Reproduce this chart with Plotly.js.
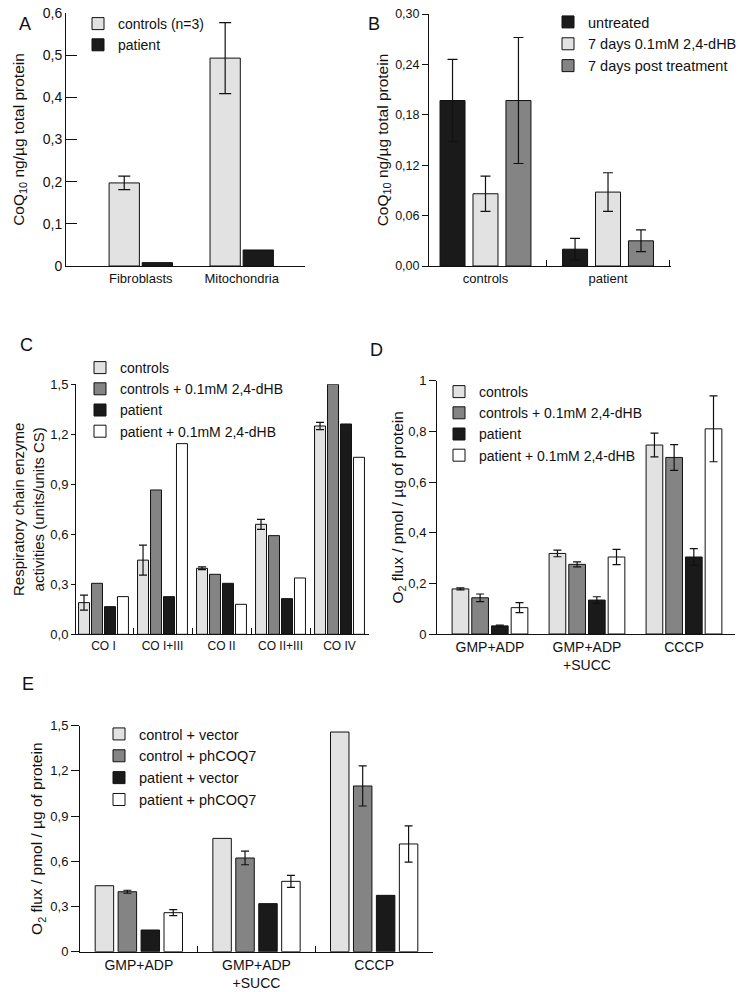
<!DOCTYPE html>
<html><head><meta charset="utf-8">
<script src="https://cdn.plot.ly/plotly-3.0.1.min.js"></script>
<style>html,body{margin:0;padding:0;background:#fff}#chart{width:750px;height:992px}</style>
</head><body><div id="chart"></div>
<script>
// ---------- Panel A ----------
const aCategories = ['Fibroblasts', 'Mitochondria'];
const aControls = [0.197, 0.493];
const aControlsErr = [0.016, 0.084];
const aPatient = [0.008, 0.038];

// ---------- Panel B ----------
const bCategories = ['controls', 'patient'];
const bUntreated = [0.197, 0.020];
const bUntreatedErr = [0.049, 0.013];
const bTreated = [0.086, 0.088];
const bTreatedErr = [0.021, 0.023];
const bPost = [0.197, 0.030];
const bPostErr = [0.075, 0.013];

// ---------- Panel C ----------
const cCategories = ['CO I', 'CO I+III', 'CO II', 'CO II+III', 'CO IV'];
const cControls = [0.19, 0.445, 0.396, 0.66, 1.25];
const cControlsErr = [0.045, 0.09, 0.008, 0.03, 0.022];
const cControlsDhb = [0.306, 0.866, 0.36, 0.592, 1.5];
const cPatient = [0.166, 0.226, 0.306, 0.214, 1.262];
const cPatientDhb = [0.226, 1.144, 0.18, 0.338, 1.062];

// ---------- Panel D ----------
const dCategories = ['GMP+ADP', 'GMP+ADP<br>+SUCC', 'CCCP'];
const dControls = [0.178, 0.318, 0.746];
const dControlsErr = [0.004, 0.013, 0.047];
const dControlsDhb = [0.143, 0.275, 0.697];
const dControlsDhbErr = [0.015, 0.010, 0.051];
const dPatient = [0.032, 0.134, 0.304];
const dPatientErr = [0.003, 0.013, 0.033];
const dPatientDhb = [0.104, 0.304, 0.81];
const dPatientDhbErr = [0.020, 0.030, 0.130];

// ---------- Panel E ----------
const eCategories = ['GMP+ADP', 'GMP+ADP<br>+SUCC', 'CCCP'];
const eControlVector = [0.438, 0.752, 1.458];
const eControlPh = [0.398, 0.622, 1.10];
const eControlPhErr = [0.010, 0.045, 0.133];
const ePatientVector = [0.144, 0.319, 0.374];
const ePatientPh = [0.259, 0.467, 0.715];
const ePatientPhErr = [0.020, 0.040, 0.120];

// ---------- styling ----------
const W = 750, H = 992;
const LIGHT = '#e2e2e2', MID = '#848484', DARK = '#1a1a1a', WHITE = '#ffffff';
const FONT = 'Liberation Sans, Arial, Helvetica, sans-serif';
const px = v => v / W;
const py = v => 1 - v / H;

function bar(p, x, y, err, name, color, idx, n) {
  const offset = -n * p.slot / 2 + idx * p.slot + (p.slot - p.bw) / 2;
  const t = {
    type: 'bar', x: x, y: y, name: name,
    xaxis: p.xa, yaxis: p.ya, legend: p.legend,
    width: p.bw, offset: offset,
    marker: {color: color, line: {color: '#111', width: 1}},
    showlegend: true, hoverinfo: 'x+y+name'
  };
  if (err) {
    t.error_y = {type: 'data', array: err, visible: true, color: '#111', thickness: 1.2, width: p.ew};
  }
  return t;
}

const PA = {xa: 'x', ya: 'y', legend: 'legend', slot: 0.328, bw: 0.30, ew: 6};
const PB = {xa: 'x2', ya: 'y2', legend: 'legend2', slot: 0.269, bw: 0.204, ew: 5};
const PC = {xa: 'x3', ya: 'y3', legend: 'legend3', slot: 0.22, bw: 0.186, ew: 4};
const PD = {xa: 'x4', ya: 'y4', legend: 'legend4', slot: 0.203, bw: 0.172, ew: 4};
const PE = {xa: 'x5', ya: 'y5', legend: 'legend5', slot: 0.195, bw: 0.157, ew: 4};

const data = [
  bar(PA, aCategories, aControls, aControlsErr, 'controls (n=3)', LIGHT, 0, 2),
  bar(PA, aCategories, aPatient, null, 'patient', DARK, 1, 2),

  bar(PB, bCategories, bUntreated, bUntreatedErr, 'untreated', DARK, 0, 3),
  bar(PB, bCategories, bTreated, bTreatedErr, '7 days 0.1mM 2,4-dHB', LIGHT, 1, 3),
  bar(PB, bCategories, bPost, bPostErr, '7 days post treatment', MID, 2, 3),

  bar(PC, cCategories, cControls, cControlsErr, 'controls', LIGHT, 0, 4),
  bar(PC, cCategories, cControlsDhb, null, 'controls + 0.1mM 2,4-dHB', MID, 1, 4),
  bar(PC, cCategories, cPatient, null, 'patient', DARK, 2, 4),
  bar(PC, cCategories, cPatientDhb, null, 'patient + 0.1mM 2,4-dHB', WHITE, 3, 4),

  bar(PD, dCategories, dControls, dControlsErr, 'controls', LIGHT, 0, 4),
  bar(PD, dCategories, dControlsDhb, dControlsDhbErr, 'controls + 0.1mM 2,4-dHB', MID, 1, 4),
  bar(PD, dCategories, dPatient, dPatientErr, 'patient', DARK, 2, 4),
  bar(PD, dCategories, dPatientDhb, dPatientDhbErr, 'patient + 0.1mM 2,4-dHB', WHITE, 3, 4),

  bar(PE, eCategories, eControlVector, null, 'control + vector', LIGHT, 0, 4),
  bar(PE, eCategories, eControlPh, eControlPhErr, 'control + phCOQ7', MID, 1, 4),
  bar(PE, eCategories, ePatientVector, null, 'patient + vector', DARK, 2, 4),
  bar(PE, eCategories, ePatientPh, ePatientPhErr, 'patient + phCOQ7', WHITE, 3, 4)
];

function xAxis(x0, x1, range, ticks, fontSize, anchor) {
  const ax = {
    domain: [px(x0), px(x1)], range: range, type: 'category', anchor: anchor,
    showline: true, linecolor: '#111', linewidth: 1, showgrid: false, zeroline: false,
    tickfont: {size: fontSize, color: '#111'}, fixedrange: true
  };
  if (ticks) {
    ax.ticks = 'inside'; ax.tickson = 'boundaries'; ax.ticklen = 6; ax.tickcolor = '#111'; ax.tickwidth = 1;
  } else {
    ax.ticks = '';
  }
  return ax;
}
function yAxis(yTop, yBot, range, dtick, fmt, ticks, ticklen, fontSize, title, titleSize, standoff, anchor) {
  return {
    domain: [py(yBot), py(yTop)], range: range, dtick: dtick, tick0: 0, tickformat: fmt,
    anchor: anchor, showline: true, linecolor: '#111', linewidth: 1, showgrid: false, zeroline: false,
    ticks: ticks, ticklen: ticklen, tickcolor: '#111', tickwidth: 1,
    tickfont: {size: fontSize, color: '#111'}, fixedrange: true,
    title: {text: title, font: {size: titleSize, color: '#111'}, standoff: standoff}
  };
}
function legendAt(x, y, size) {
  return {x: px(x), y: py(y), xanchor: 'left', yanchor: 'top', bgcolor: 'rgba(0,0,0,0)',
    font: {size: size, color: '#111'}, traceorder: 'normal', itemclick: false, itemdoubleclick: false};
}

const layout = {
  width: W, height: H, margin: {l: 0, r: 0, t: 0, b: 0},
  paper_bgcolor: '#fff', plot_bgcolor: 'rgba(0,0,0,0)',
  font: {family: FONT, color: '#111', size: 13},
  separators: ',.', barmode: 'overlay', showlegend: true,

  xaxis: xAxis(66, 305, [-0.741, 1.627], false, 13, 'y'),
  yaxis: yAxis(13, 266, [0, 0.6], 0.1, '', 'inside', 11, 14,
    'CoQ<sub>10</sub> ng/µg total protein', 15.5, 14, 'x'),

  xaxis2: xAxis(429, 671, [-0.461, 1.514], true, 13, 'y2'),
  yaxis2: yAxis(14, 266, [0, 0.30], 0.06, '.2f', 'outside', 6, 12.5,
    'CoQ<sub>10</sub> ng/µg total protein', 15.5, 2, 'x2'),

  xaxis3: xAxis(76, 369, [-0.466, 4.5], true, 12, 'y3'),
  yaxis3: yAxis(384.3, 634.3, [0, 1.5], 0.3, '.1f', 'outside', 4, 13,
    'Respiratory chain enzyme<br>activities (units/units CS)', 15, 2, 'x3'),

  xaxis4: xAxis(437, 735, [-0.546, 2.526], false, 14, 'y4'),
  yaxis4: yAxis(380.7, 634, [0, 1], 0.2, '', 'outside', 7, 13,
    'O<sub>2</sub> flux / pmol / µg of protein', 15.5, 0, 'x4'),

  xaxis5: xAxis(80, 433, [-0.5, 2.5], true, 14, 'y5'),
  yaxis5: yAxis(725.7, 951.7, [0, 1.5], 0.3, '', 'outside', 8, 13,
    'O<sub>2</sub> flux / pmol / µg of protein', 15.5, 3, 'x5'),

  legend: legendAt(78, 8, 14),
  legend2: legendAt(548, 6, 14.5),
  legend3: legendAt(80, 352, 14),
  legend4: legendAt(439, 376, 14),
  legend5: legendAt(99, 718, 14.5),

  annotations: [
    {text: 'A', x: px(17), y: py(12), xref: 'paper', yref: 'paper', showarrow: false, font: {size: 18}},
    {text: 'B', x: px(374), y: py(12), xref: 'paper', yref: 'paper', showarrow: false, font: {size: 18}},
    {text: 'C', x: px(18), y: py(345), xref: 'paper', yref: 'paper', showarrow: false, font: {size: 18}},
    {text: 'D', x: px(376), y: py(350), xref: 'paper', yref: 'paper', showarrow: false, font: {size: 18}},
    {text: 'E', x: px(20), y: py(696), xref: 'paper', yref: 'paper', showarrow: false, font: {size: 18}}
  ]
};

Plotly.newPlot('chart', data, layout, {displayModeBar: false, staticPlot: true});
</script>
</body></html>
